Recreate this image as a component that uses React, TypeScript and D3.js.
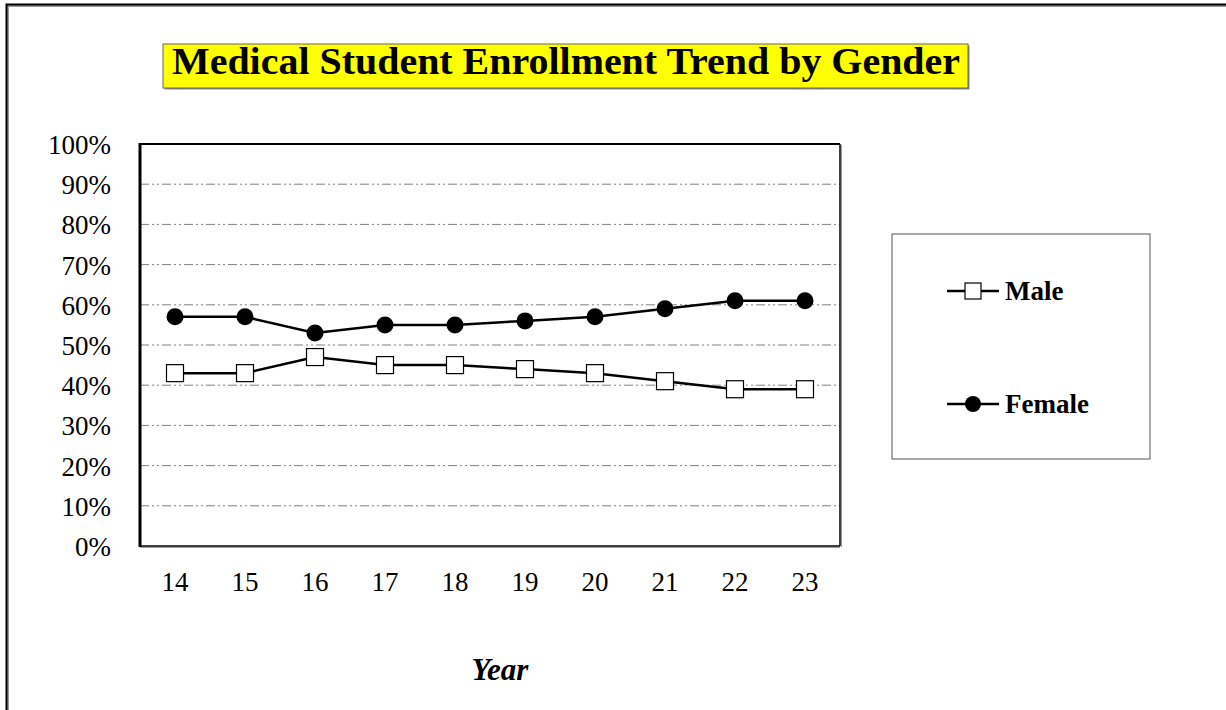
import React, { useEffect, useRef } from "react";
import * as d3 from "d3";

const years = ["14", "15", "16", "17", "18", "19", "20", "21", "22", "23"];
const maleValues = [43, 43, 47, 45, 45, 44, 43, 41, 39, 39];
const femaleValues = [57, 57, 53, 55, 55, 56, 57, 59, 61, 61];
const yTicks = [0, 10, 20, 30, 40, 50, 60, 70, 80, 90, 100];

const W = 1226;
const H = 710;
const FONT = "'Liberation Serif', 'Times New Roman', serif";

export default function App() {
  const ref = useRef<SVGSVGElement>(null);

  useEffect(() => {
    const svg = d3.select(ref.current);
    svg.selectAll("*").remove();

    // outer frame (shadow + border)
    svg.append("rect").attr("x", 8).attr("y", 6).attr("width", W + 20).attr("height", H + 20)
      .attr("fill", "none").attr("stroke", "#999").attr("stroke-width", 2);
    svg.append("rect").attr("x", 6.5).attr("y", 4.5).attr("width", W + 20).attr("height", H + 20)
      .attr("fill", "none").attr("stroke", "#000").attr("stroke-width", 2);

    // title
    const tb = { x: 163, y: 44, w: 805, h: 44 };
    svg.append("rect").attr("x", tb.x + 1.5).attr("y", tb.y + 1.5).attr("width", tb.w).attr("height", tb.h)
      .attr("fill", "#888");
    svg.append("rect").attr("x", tb.x).attr("y", tb.y).attr("width", tb.w).attr("height", tb.h)
      .attr("fill", "#ffff00").attr("stroke", "#666").attr("stroke-width", 1);
    svg.append("text").attr("x", 172).attr("y", 74)
      .attr("font-family", FONT).attr("font-weight", "bold")
      .attr("font-size", 38).attr("fill", "#000")
      .attr("textLength", 788).attr("lengthAdjust", "spacingAndGlyphs")
      .text("Medical Student Enrollment Trend by Gender");

    const left = 140, right = 840, top = 144, bottom = 546;
    const x = d3.scaleBand<string>().domain(years).range([left, right]);
    const y = d3.scaleLinear().domain([0, 100]).range([bottom, top]);

    // gridlines
    svg.append("g").selectAll("line").data(yTicks.filter(t => t > 0 && t < 100)).join("line")
      .attr("x1", left).attr("x2", right)
      .attr("y1", d => y(d)).attr("y2", d => y(d))
      .attr("stroke", "#808080").attr("stroke-width", 1)
      .attr("stroke-dasharray", "9 3 2 3 2 3");

    // plot frame
    svg.append("line").attr("x1", left).attr("x2", right).attr("y1", top).attr("y2", top)
      .attr("stroke", "#000").attr("stroke-width", 2);
    svg.append("line").attr("x1", right + 1.5).attr("x2", right + 1.5).attr("y1", top + 1).attr("y2", bottom + 1)
      .attr("stroke", "#999").attr("stroke-width", 1);
    svg.append("line").attr("x1", right).attr("x2", right).attr("y1", top).attr("y2", bottom)
      .attr("stroke", "#000").attr("stroke-width", 1.5);
    svg.append("line").attr("x1", left).attr("x2", right).attr("y1", bottom + 1.5).attr("y2", bottom + 1.5)
      .attr("stroke", "#999").attr("stroke-width", 1);
    svg.append("line").attr("x1", left).attr("x2", right).attr("y1", bottom).attr("y2", bottom)
      .attr("stroke", "#000").attr("stroke-width", 1.5);
    svg.append("line").attr("x1", left).attr("x2", left).attr("y1", top - 1).attr("y2", bottom + 1)
      .attr("stroke", "#000").attr("stroke-width", 3);

    // y tick labels
    svg.append("g").selectAll("text").data(yTicks).join("text")
      .attr("x", 111).attr("y", d => y(d) + 10)
      .attr("text-anchor", "end").attr("font-family", FONT).attr("font-size", 27).attr("fill", "#000")
      .text(d => `${d}%`);

    // x tick labels
    svg.append("g").selectAll("text").data(years).join("text")
      .attr("x", d => (x(d) as number) + x.bandwidth() / 2).attr("y", 591)
      .attr("text-anchor", "middle").attr("font-family", FONT).attr("font-size", 27).attr("fill", "#000")
      .text(d => d);

    // axis title
    svg.append("text").attr("x", 500).attr("y", 680).attr("text-anchor", "middle")
      .attr("font-family", FONT).attr("font-size", 31).attr("font-weight", "bold").attr("font-style", "italic")
      .text("Year");

    const cx = (i: number) => (x(years[i]) as number) + x.bandwidth() / 2;
    const line = d3.line<number>().x((_, i) => cx(i)).y(d => y(d));

    svg.append("path").attr("d", line(femaleValues)).attr("fill", "none").attr("stroke", "#000").attr("stroke-width", 2.5);
    svg.append("path").attr("d", line(maleValues)).attr("fill", "none").attr("stroke", "#000").attr("stroke-width", 2.5);

    const sq = 17;
    svg.append("g").selectAll("rect").data(maleValues).join("rect")
      .attr("x", (_, i) => cx(i) - sq / 2).attr("y", d => y(d) - sq / 2)
      .attr("width", sq).attr("height", sq).attr("fill", "#fff").attr("stroke", "#000").attr("stroke-width", 1.2);
    svg.append("g").selectAll("circle").data(femaleValues).join("circle")
      .attr("cx", (_, i) => cx(i)).attr("cy", d => y(d)).attr("r", 8.5).attr("fill", "#000");

    // legend
    const lg = { x: 892, y: 234, w: 258, h: 225 };
    svg.append("rect").attr("x", lg.x).attr("y", lg.y).attr("width", lg.w).attr("height", lg.h)
      .attr("fill", "#fff").attr("stroke", "#555").attr("stroke-width", 1);
    const entries = [
      { name: "Male", yy: 291, marker: "square" },
      { name: "Female", yy: 404, marker: "circle" },
    ];
    entries.forEach(e => {
      svg.append("line").attr("x1", 947).attr("x2", 999).attr("y1", e.yy).attr("y2", e.yy)
        .attr("stroke", "#000").attr("stroke-width", 2.5);
      if (e.marker === "square") {
        svg.append("rect").attr("x", 965).attr("y", e.yy - 8).attr("width", 16).attr("height", 16)
          .attr("fill", "#fff").attr("stroke", "#000").attr("stroke-width", 1.2);
      } else {
        svg.append("circle").attr("cx", 973).attr("cy", e.yy).attr("r", 8).attr("fill", "#000");
      }
      svg.append("text").attr("x", 1005).attr("y", e.yy + 9)
        .attr("font-family", FONT).attr("font-weight", "bold").attr("font-size", 27).text(e.name);
    });
  }, []);

  return (
    <svg ref={ref} width={W} height={H}
      style={{ position: "absolute", left: 0, top: 0, background: "#fff", display: "block" }} />
  );
}
